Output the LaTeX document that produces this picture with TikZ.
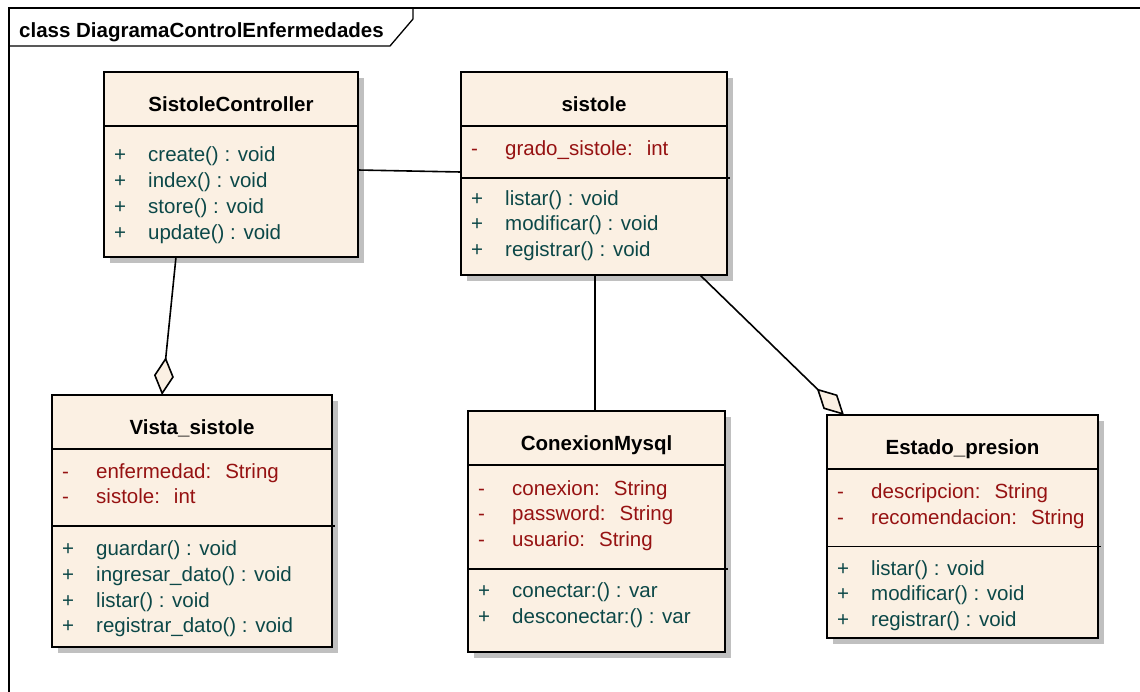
\documentclass[tikz,border=0pt]{standalone}
\usepackage{fontspec}
\setmainfont{Liberation Sans}
\usetikzlibrary{calc,arrows.meta,shadows}

\definecolor{cream}{RGB}{251,240,227}
\definecolor{attrred}{RGB}{150,18,18}
\definecolor{methteal}{RGB}{12,72,72}
\definecolor{shadowgray}{RGB}{192,192,192}

\pgfdeclarelayer{paper}
\pgfsetlayers{paper,main}

\tikzset{
  classbox/.style={draw=black, line width=1.8pt, fill=cream, rectangle,
    inner sep=0pt, outer sep=0pt, anchor=north west,
    drop shadow={shadow xshift=6pt, shadow yshift=-6pt, fill=shadowgray, opacity=1}},
  classname/.style={font=\fontsize{20.5}{24}\selectfont\bfseries, inner sep=0pt, anchor=base},
  attrtext/.style={font=\fontsize{20.5}{24}\selectfont, text=attrred, inner sep=0pt, anchor=base west},
  methtext/.style={font=\fontsize{20.5}{24}\selectfont, text=methteal, inner sep=0pt, anchor=base west},
  divider/.style={line width=1.5pt},
  assoc/.style={line width=1.6pt},
  aggreg/.style={line width=1.6pt, -{Diamond[length=38pt,width=20pt,fill=cream,line width=1.6pt]}},
  framestyle/.style={line width=1.3pt},
}

% one compartment row: box, id, offset from top, style, sign, text
\newcommand{\umlrow}[6]{%
  \node[#4] (#1-#2s) at ($(#1.north west)+(10,#3)$) {#5};
  \node[#4] (#1-#2) at ($(#1.north west)+(44,#3)$) {#6};
}
% compartment separator: box, offset from top, overshoot at right
\newcommand{\umlsep}[3]{%
  \draw[divider] ($(#1.north west)+(0,#2)$) -- ($(#1.north east)+(#3,#2)$);
}
\newcommand{\colsp}{\hspace{14pt}}

\begin{document}
\begin{tikzpicture}[x=1pt,y=-1pt]
\useasboundingbox (0,0) rectangle (1140,691);
\begin{pgfonlayer}{paper}
\fill[white] (0,0) rectangle (1140,691);
\end{pgfonlayer}

% diagram frame with its name tab
\draw[framestyle] (9,700) -- (9,8) -- (1150,8);
\draw[framestyle] (9,46) -- (390,46) -- (413,19) -- (413,8);
\node[font=\fontsize{20.5}{24}\selectfont\bfseries, inner sep=0pt, anchor=base west]
  (frametitle) at (19,37) {class DiagramaControlEnfermedades};

% ---------- SistoleController ----------
\node[classbox, minimum width=254pt, minimum height=185pt] (sc) at (104,72) {};
\node[classname] (sc-t) at ($(sc.north)+(0,39)$) {SistoleController};
\umlsep{sc}{54}{0}
\umlrow{sc}{m1}{89.7}{methtext}{+}{create() : void}
\umlrow{sc}{m2}{115.5}{methtext}{+}{index() : void}
\umlrow{sc}{m3}{141.3}{methtext}{+}{store() : void}
\umlrow{sc}{m4}{167.1}{methtext}{+}{update() : void}

% ---------- sistole ----------
\node[classbox, minimum width=266pt, minimum height=203pt] (st) at (461,72) {};
\node[classname] (st-t) at ($(st.north)+(0,39)$) {sistole};
\umlsep{st}{54}{0}
\umlrow{st}{a1}{83}{attrtext}{-}{grado\_sistole:\colsp int}
\umlsep{st}{106}{3}
\umlrow{st}{m1}{133}{methtext}{+}{listar() : void}
\umlrow{st}{m2}{158.8}{methtext}{+}{modificar() : void}
\umlrow{st}{m3}{184.6}{methtext}{+}{registrar() : void}

% ---------- Vista_sistole ----------
\node[classbox, minimum width=280pt, minimum height=252pt] (vs) at (52,395) {};
\node[classname] (vs-t) at ($(vs.north)+(0,39)$) {Vista\_sistole};
\umlsep{vs}{54}{0}
\umlrow{vs}{a1}{83}{attrtext}{-}{enfermedad:\colsp String}
\umlrow{vs}{a2}{108.8}{attrtext}{-}{sistole:\colsp int}
\umlsep{vs}{131}{3}
\umlrow{vs}{m1}{160.5}{methtext}{+}{guardar() : void}
\umlrow{vs}{m2}{186.3}{methtext}{+}{ingresar\_dato() : void}
\umlrow{vs}{m3}{212.1}{methtext}{+}{listar() : void}
\umlrow{vs}{m4}{237.9}{methtext}{+}{registrar\_dato() : void}

% ---------- ConexionMysql ----------
\node[classbox, minimum width=257pt, minimum height=241pt] (cm) at (468,411) {};
\node[classname] (cm-t) at ($(cm.north)+(0,39)$) {ConexionMysql};
\umlsep{cm}{54}{0}
\umlrow{cm}{a1}{84}{attrtext}{-}{conexion:\colsp String}
\umlrow{cm}{a2}{109.8}{attrtext}{-}{password:\colsp String}
\umlrow{cm}{a3}{135.6}{attrtext}{-}{usuario:\colsp String}
\umlsep{cm}{158}{3}
\umlrow{cm}{m1}{186.5}{methtext}{+}{conectar:() : var}
\umlrow{cm}{m2}{212.3}{methtext}{+}{desconectar:() : var}

% ---------- Estado_presion ----------
\node[classbox, minimum width=271pt, minimum height=223pt] (ep) at (827,415) {};
\node[classname] (ep-t) at ($(ep.north)+(0,39)$) {Estado\_presion};
\umlsep{ep}{54}{0}
\umlrow{ep}{a1}{83.3}{attrtext}{-}{descripcion:\colsp String}
\umlrow{ep}{a2}{109.1}{attrtext}{-}{recomendacion:\colsp String}
\umlsep{ep}{131.7}{3}
\umlrow{ep}{m1}{160}{methtext}{+}{listar() : void}
\umlrow{ep}{m2}{185.8}{methtext}{+}{modificar() : void}
\umlrow{ep}{m3}{211.6}{methtext}{+}{registrar() : void}

% ---------- relationships ----------
\draw[assoc] ($(sc.north east)+(0,98)$) -- ($(st.north west)+(0,100)$);
\draw[aggreg] ($(sc.south west)+(72,0)$) -- ($(vs.north west)+(110,0)$);
\draw[assoc] ($(st.south west)+(134,0)$) -- ($(cm.north west)+(127,0)$);
\draw[aggreg] ($(st.south west)+(239,0)$) -- ($(ep.north west)+(17,0)$);
\end{tikzpicture}
\end{document}
